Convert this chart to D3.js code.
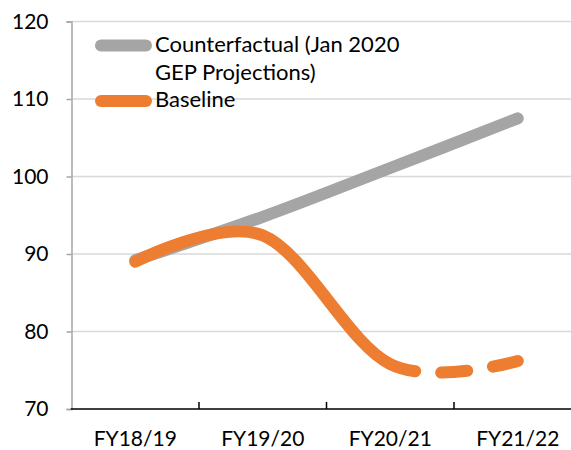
<!DOCTYPE html>
<html>
<head>
<meta charset="utf-8">
<script src="https://cdn.jsdelivr.net/npm/d3@7"></script>
<style>
  body { margin: 0; background: #ffffff; }
  svg text { font-family: Lato, "Noto Sans", sans-serif; fill: #000000; }
</style>
</head>
<body>
<svg id="chart" width="571" height="450"></svg>
<script>

// chart data
var categories = [ "FY18/19", "FY19/20", "FY20/21", "FY21/22" ];
var counterfactual = [ 89.2, 94.8, 101.1, 107.5 ];
var baseline = [ 89.0, 92.4, 75.8, 76.2 ];
var yTicks = [ 70, 80, 90, 100, 110, 120 ];
var legendLabels = [ [ "Counterfactual (Jan 2020", "GEP Projections)" ], [ "Baseline" ] ];

var grey = "#a5a5a5";
var orange = "#ed7d31";
var lineW = 12;
var fontPx = 21;

var svg = d3.select( "#chart" );

var x = d3.scaleBand()
    .domain( categories )
    .range( [ 71.5, 581.5 ] );
var y = d3.scaleLinear()
    .domain( [ 70, 120 ] )
    .range( [ 409, 21.5 ] );

var cx = function( i ) { return x( categories[i] ) + x.bandwidth() / 2; };

// gridlines
svg.append( "g" )
  .selectAll( "line" )
  .data( yTicks.slice( 1 ) )
  .join( "line" )
    .attr( "x1", x.range()[0] )
    .attr( "x2", 571 )
    .attr( "y1", function( d ) { return y( d ); } )
    .attr( "y2", function( d ) { return y( d ); } )
    .attr( "stroke", "#d9d9d9" )
    .attr( "stroke-width", 1.5 );

// y axis
var yAxis = svg.append( "g" )
    .attr( "transform", "translate(" + x.range()[0] + ",0)" )
    .call( d3.axisLeft( y ).tickValues( yTicks ).tickSize( 5 ).tickPadding( 18 ) );
yAxis.select( ".domain" ).attr( "stroke", "#a6a6a6" ).attr( "stroke-width", 1.5 );
yAxis.selectAll( ".tick line" ).attr( "stroke", "#a6a6a6" ).attr( "stroke-width", 1.5 );
yAxis.selectAll( "text" )
    .style( "font-size", fontPx + "px" )
    .style( "font-family", "Lato, sans-serif" )
    .attr( "fill", "#000" );

// x axis: labels at band centres, ticks at band edges
var xAxis = svg.append( "g" )
    .attr( "transform", "translate(0," + y( 70 ) + ")" )
    .call( d3.axisBottom( x ).tickSize( 0 ).tickPadding( 22 ) );
xAxis.select( ".domain" ).remove();
xAxis.selectAll( "text" )
    .style( "font-size", fontPx + "px" )
    .style( "font-family", "Lato, sans-serif" )
    .attr( "fill", "#000" );

svg.append( "line" )
    .attr( "x1", x.range()[0] - 0.75 )
    .attr( "x2", 571 )
    .attr( "y1", y( 70 ) )
    .attr( "y2", y( 70 ) )
    .attr( "stroke", "#000" )
    .attr( "stroke-width", 1.5 );
svg.append( "g" )
  .selectAll( "line" )
  .data( categories.slice( 1 ) )
  .join( "line" )
    .attr( "x1", function( d ) { return x( d ); } )
    .attr( "x2", function( d ) { return x( d ); } )
    .attr( "y1", y( 70 ) )
    .attr( "y2", y( 70 ) - 7 )
    .attr( "stroke", "#000" )
    .attr( "stroke-width", 1.5 );

// smoothed lines
var line = d3.line()
    .x( function( d, i ) { return cx( i ); } )
    .y( function( d ) { return y( d ); } )
    .curve( d3.curveCardinal.tension( 0 ) );

svg.append( "path" )
    .attr( "d", line( counterfactual ) )
    .attr( "fill", "none" )
    .attr( "stroke", grey )
    .attr( "stroke-width", lineW )
    .attr( "stroke-linecap", "round" );

var basePath = svg.append( "path" )
    .attr( "d", line( baseline ) )
    .attr( "fill", "none" )
    .attr( "stroke", orange )
    .attr( "stroke-width", lineW )
    .attr( "stroke-linecap", "round" );

// last segment dashed: find where the path reaches FY20/21
var node = basePath.node();
var total = node.getTotalLength();
var lo = 0, hi = total, target = cx( 2 );
for ( var k = 0; k < 40; k++ ) {
    var mid = ( lo + hi ) / 2;
    if ( node.getPointAtLength( mid ).x < target ) { lo = mid; } else { hi = mid; }
}
var dash = 26, gap = 26;
var dashes = [ lo + dash, gap ];
var run = lo + dash + gap;
while ( run < total ) {
    dashes.push( dash, gap );
    run += dash + gap;
}
basePath.attr( "stroke-dasharray", dashes.join( " " ) );

// legend
var legend = svg.append( "g" );
var legendRows = [ { color: grey, ly: 45.5, ty: [ 52, 80 ] }, { color: orange, ly: 101, ty: [ 107 ] } ];
legendRows.forEach( function( r, i ) {
    legend.append( "line" )
        .attr( "x1", 101 ).attr( "x2", 146 )
        .attr( "y1", r.ly ).attr( "y2", r.ly )
        .attr( "stroke", r.color )
        .attr( "stroke-width", lineW )
        .attr( "stroke-linecap", "round" );
    legendLabels[i].forEach( function( t, j ) {
        legend.append( "text" )
            .text( t )
            .attr( "x", 155 )
            .attr( "y", r.ty[j] )
            .style( "font-size", "22px" );
    });
});

</script>
</body>
</html>
